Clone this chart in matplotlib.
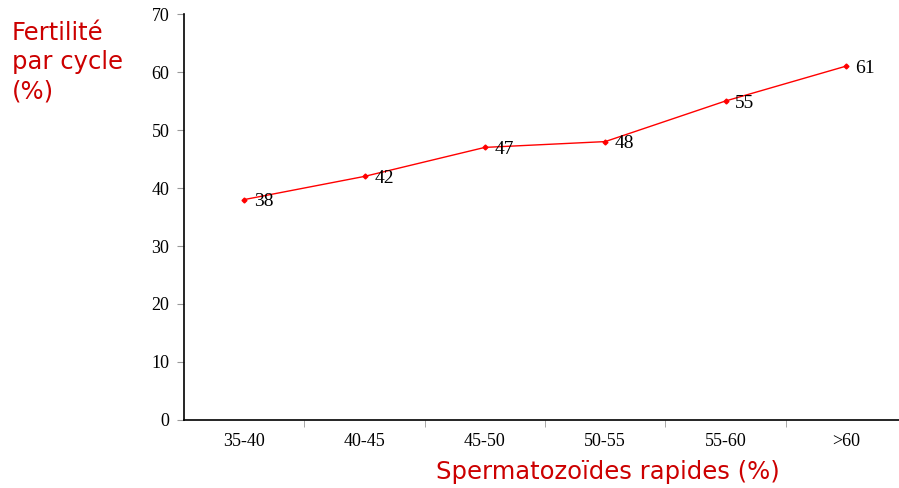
import matplotlib.pyplot as plt

# Data
categories = ["35-40", "40-45", "45-50", "50-55", "55-60", ">60"]
fertility = [38, 42, 47, 48, 55, 61]
y_ticks = [0, 10, 20, 30, 40, 50, 60, 70]

red = "#CC0000"
serif = ["Liberation Serif", "DejaVu Serif"]

fig = plt.figure(figsize=(8.99, 4.88), dpi=100)
W, H = 899, 488
ax = fig.add_axes([184 / W, (H - 420) / H, (906 - 184) / W, (420 - 14) / H])

x = list(range(len(categories)))
ax.plot(x, fertility, color="#FF0000", lw=1, marker="D", markersize=2.5,
        markerfacecolor="#FF0000", markeredgecolor="#FF0000")

for xi, v in zip(x, fertility):
    ax.annotate(str(v), (xi, v), xytext=(7, -1.5), textcoords="offset points",
                va="center", ha="left", fontsize=14, family=serif)

ax.set_xlim(-0.5, len(categories) - 0.5)
ax.set_ylim(0, 70)
ax.set_yticks(y_ticks)
ax.set_yticklabels([str(t) for t in y_ticks], family=serif, fontsize=13)

# category labels centred, tick marks between categories
ax.set_xticks(x)
ax.set_xticklabels(categories, family=serif, fontsize=13)
ax.tick_params(axis="x", length=0, pad=9)
ax.set_xticks([i + 0.5 for i in range(len(categories) - 1)], minor=True)
ax.tick_params(axis="x", which="minor", length=5, color="#999999", direction="out")
ax.tick_params(axis="y", length=5, color="#999999", direction="out", pad=5.5)

for s in ["top", "right"]:
    ax.spines[s].set_visible(False)
ax.spines["left"].set_linewidth(1.2)
ax.spines["bottom"].set_linewidth(1.2)

fig.text(12 / W, 1 - 21 / H, "Fertilité\npar cycle\n(%)", color=red, fontsize=17.5,
         va="top", ha="left", linespacing=1.27)
fig.text(608 / W, 1 - 472 / H, "Spermatozoïdes rapides (%)", color=red, fontsize=17.5,
         va="center", ha="center")

fig.savefig("out.png", dpi=100)
